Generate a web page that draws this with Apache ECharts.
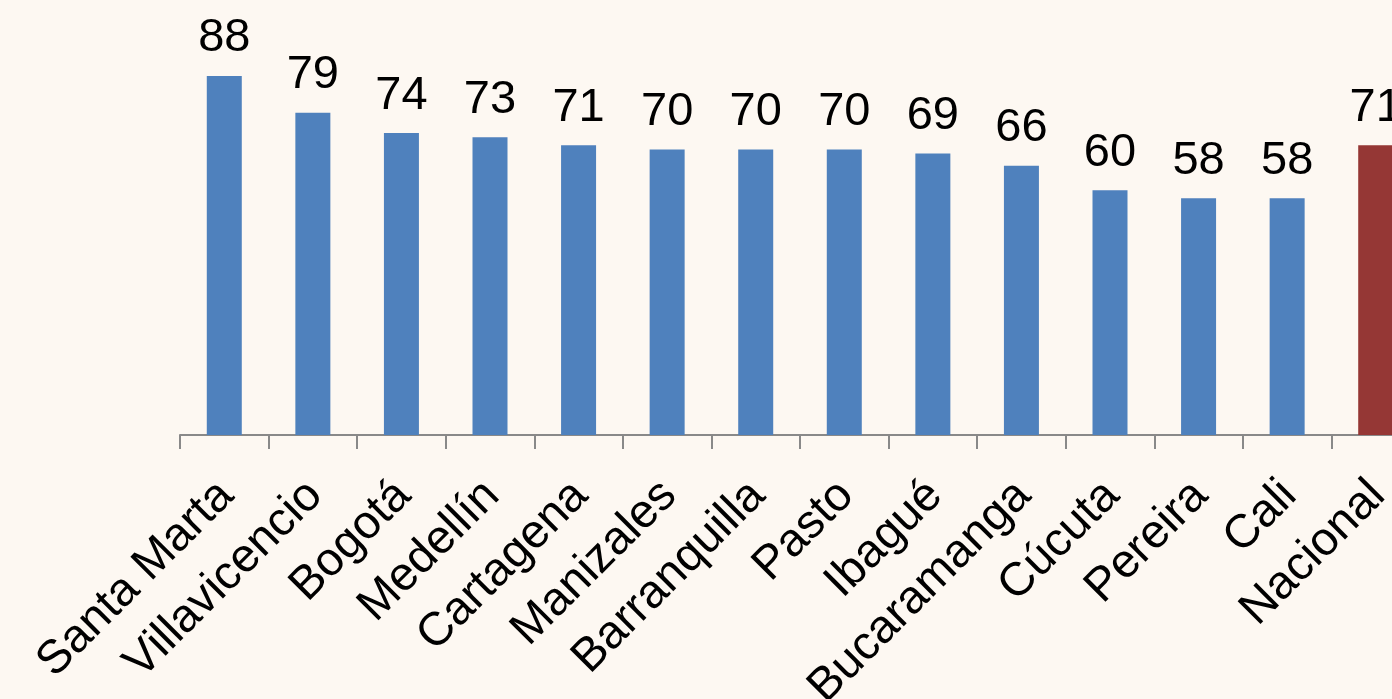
<!DOCTYPE html>
<html>
<head>
<meta charset="utf-8">
<script src="https://cdn.jsdelivr.net/npm/echarts@6/dist/echarts.min.js"></script>
<style>
html,body{margin:0;padding:0;background:#FDF8F2;}
#chart{width:1392px;height:699px;}
</style>
</head>
<body>
<div id="chart"></div>
<script>
const categories = ["Santa Marta","Villavicencio","Bogotá","Medellín","Cartagena","Manizales","Barranquilla","Pasto","Ibagué","Bucaramanga","Cúcuta","Pereira","Cali","Nacional"];
const values = [88,79,74,73,71,70,70,70,69,66,60,58,58,71];
const highlight = ["Nacional"];

const chart = echarts.init(document.getElementById('chart'));
chart.setOption({
  backgroundColor: '#FDF8F2',
  animation: false,
  grid: { left: 180, top: 27, right: -28, bottom: 264, containLabel: false, outerBoundsMode: 'none' },
  xAxis: {
    type: 'category',
    data: categories,
    boundaryGap: true,
    axisLine: { lineStyle: { color: '#898989', width: 2 } },
    axisTick: { show: true, length: 14, lineStyle: { color: '#898989', width: 2 } },
    axisLabel: {
      interval: 0,
      rotate: 45,
      fontFamily: 'Liberation Sans, Arial, sans-serif',
      fontSize: 47,
      color: '#000',
      align: 'right',
      verticalAlign: 'top',
      lineHeight: 50,
      padding: [0, 22, 0, 0],
      margin: 20
    }
  },
  yAxis: {
    type: 'value', min: 0, max: 100, show: false, splitLine: { show: false }
  },
  series: [{
    type: 'bar',
    barWidth: 35,
    data: values.map((v, i) => ({
      value: v,
      itemStyle: { color: highlight.includes(categories[i]) ? '#953735' : '#4F81BD' }
    })),
    label: {
      show: true,
      position: 'top',
      distance: 14,
      fontFamily: 'Liberation Sans, Arial, sans-serif',
      fontSize: 47,
      color: '#000'
    }
  }]
});
</script>
</body>
</html>
